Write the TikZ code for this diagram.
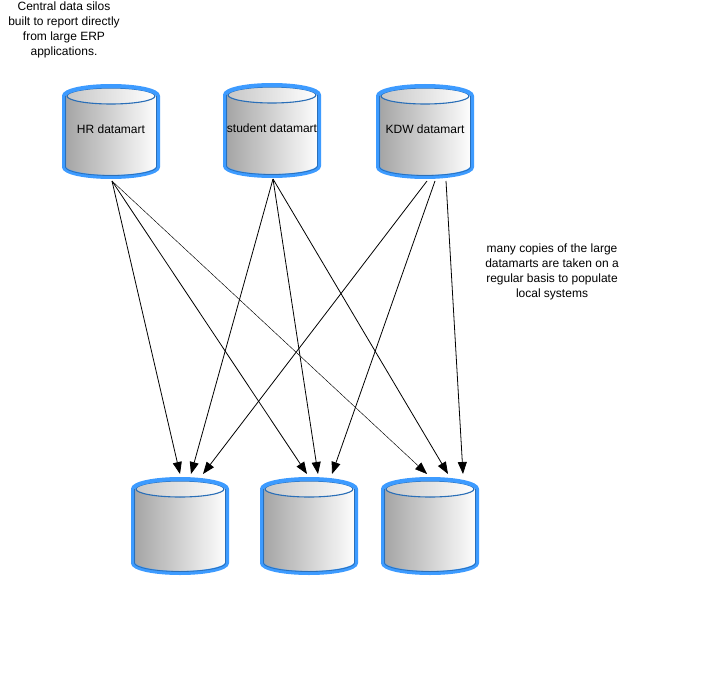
\documentclass[tikz,border=0pt]{standalone}
\usepackage{fontspec}
\setmainfont{Liberation Sans}
\usetikzlibrary{arrows.meta}
\definecolor{rimblue}{HTML}{3D9BFF}
\definecolor{darkrim}{HTML}{2A6FB8}
\tikzset{
  txt/.style={font=\fontsize{12}{15}\selectfont, align=center, inner sep=0pt},
  conn/.style={line width=0.8pt, -{Triangle[length=12pt,width=9pt]}},
  thinconn/.style={line width=0.45pt, -{Triangle[length=12pt,width=9pt]}},
}
% #1 name, #2 cx, #3 outer top y, #4 outer bottom y, #5 label
\newcommand\dbcyl[5]{%
  \pgfmathsetmacro\yt{#3+12}%
  \pgfmathsetmacro\yb{#4-12}%
  \fill[left color=black!36, right color=white]
    (#2-47,\yt) -- (#2-47,\yb) arc[start angle=180, end angle=360, x radius=47pt, y radius=10pt]
    -- (#2+47,\yt) arc[start angle=0, end angle=180, x radius=47pt, y radius=10pt] -- cycle;
  \fill[left color=black!22, right color=white] (#2,\yt) ellipse[x radius=44pt, y radius=8pt];
  \draw[darkrim, line width=1.1pt] (#2,\yt) ellipse[x radius=44pt, y radius=8pt];
  \draw[rimblue, line width=4pt, line join=round]
    (#2-47,\yt) -- (#2-47,\yb) arc[start angle=180, end angle=360, x radius=47pt, y radius=10pt]
    -- (#2+47,\yt) arc[start angle=0, end angle=180, x radius=47pt, y radius=10pt] -- cycle;
  \draw[darkrim, line width=0.8pt]
    (#2-45.5,\yt) -- (#2-45.5,\yb) arc[start angle=180, end angle=360, x radius=45.5pt, y radius=8.5pt]
    -- (#2+45.5,\yt);
  \node[txt, minimum width=94pt, minimum height=60pt] (#1) at (#2,{(#3+#4)/2-2}) {#5};
}
\begin{document}
\begin{tikzpicture}[x=1pt,y=-1pt]
\useasboundingbox (0,0) rectangle (727,676);
\fill[white] (0,0) rectangle (727,676);

\dbcyl{hr}{111}{84}{179}{HR datamart}
\dbcyl{st}{272}{83}{178}{student datamart}
\dbcyl{kdw}{425}{84}{179}{KDW datamart}
\dbcyl{b1}{180}{477}{575}{}
\dbcyl{b2}{309}{477}{575}{}
\dbcyl{b3}{430}{477}{575}{}

\node[txt] (note1) at (64,30) {Central data silos\\built to report directly\\from large ERP\\applications.};
\node[txt] (note2) at (552,272) {many copies of the large\\datamarts are taken on a\\regular basis to populate\\local systems};

\coordinate (hrs) at (112,181);
\coordinate (sts) at (273,179);
\coordinate (k1) at (427,181);
\coordinate (k2) at (435,181);
\coordinate (k3) at (446,181);
\coordinate (t11) at (180,474);
\coordinate (t12) at (191,474);
\coordinate (t13) at (203,474);
\coordinate (t21) at (307,474);
\coordinate (t22) at (318,474);
\coordinate (t23) at (332,474);
\coordinate (t31) at (427,474);
\coordinate (t32) at (448,474);
\coordinate (t33) at (463,474);

\draw[conn] (hrs) -- (t11);
\draw[conn] (hrs) -- (t21);
\draw[thinconn] (hrs) -- (t31);
\draw[conn] (sts) -- (t12);
\draw[conn] (sts) -- (t22);
\draw[conn] (sts) -- (t32);
\draw[conn] (k1) -- (t13);
\draw[conn] (k2) -- (t23);
\draw[conn] (k3) -- (t33);
\end{tikzpicture}
\end{document}
